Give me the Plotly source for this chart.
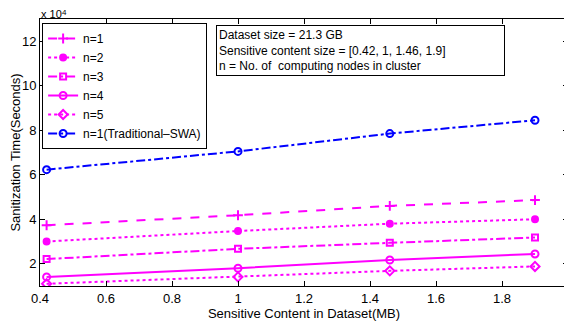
import plotly.graph_objects as go

content_mb = [0.42, 1, 1.46, 1.9]
n1 = [37300, 41800, 46000, 48600]
n2 = [30000, 34700, 38000, 40000]
n3 = [22100, 26700, 29400, 31800]
n4 = [14100, 18000, 21700, 24400]
n5 = [11000, 14100, 16800, 18800]
trad_swa = [62300, 70500, 78500, 84500]

x_ticks = [0.4, 0.6, 0.8, 1, 1.2, 1.4, 1.6, 1.8, 2]
x_ticktext = ["0.4", "0.6", "0.8", "1", "1.2", "1.4", "1.6", "1.8", "2"]
y_ticks = [20000, 40000, 60000, 80000, 100000, 120000]
y_ticktext = ["2", "4", "6", "8", "10", "12"]

MAG = "#FF00FF"
BLUE = "#0000FF"
FONT = "Liberation Sans, Arial, sans-serif"

series = [
    ("n=1", n1, MAG, "dash", "cross-thin-open", 7),
    ("n=2", n2, MAG, "dot", "circle", 6),
    ("n=3", n3, MAG, "dashdot", "square-open", 6),
    ("n=4", n4, MAG, "solid", "circle-open", 7),
    ("n=5", n5, MAG, "dot", "diamond-open", 7),
    ("n=1(Traditional\u2013SWA)", trad_swa, BLUE, "dashdot", "circle-open", 7),
]

fig = go.Figure()
for name, ys, col, dash, sym, sz in series:
    fig.add_trace(go.Scatter(
        x=content_mb, y=ys, name=name, mode="lines+markers",
        line=dict(color=col, dash=dash, width=2),
        marker=dict(symbol=sym, size=sz, color=col, line=dict(color=col, width=2)),
    ))

axis_common = dict(
    showline=True, linecolor="black", linewidth=1, mirror="ticks",
    ticks="inside", ticklen=5, tickcolor="black", showgrid=False, zeroline=False,
    tickfont=dict(family=FONT, size=13, color="black"),
    automargin=False,
)

# page has an 8px default body margin, so the figure is sized to fit the window
fig.update_layout(
    width=564, height=314,
    margin=dict(l=32, r=4, t=11, b=36),
    paper_bgcolor="white", plot_bgcolor="white",
    font=dict(family=FONT, size=13, color="black"),
    xaxis=dict(range=[0.4, 2], tickvals=x_ticks, ticktext=x_ticktext,
               title=dict(text="Sensitive Content in Dataset(MB)", standoff=4,
                          font=dict(family=FONT, size=13)), **axis_common),
    yaxis=dict(range=[10000, 130000], tickvals=y_ticks, ticktext=y_ticktext,
               title=dict(text="Sanitization Time(Seconds)", standoff=4,
                          font=dict(family=FONT, size=13)), **axis_common),
    legend=dict(x=0.004, y=0.985, xanchor="left", yanchor="top",
                bgcolor="white", bordercolor="black", borderwidth=1,
                font=dict(family=FONT, size=12), itemwidth=30,
                tracegroupgap=0),
    showlegend=True,
)

fig.add_annotation(
    xref="paper", yref="paper", x=0.334, y=0.9775, xanchor="left", yanchor="top",
    text="Dataset size = 21.3 GB<br>Sensitive content size = [0.42, 1, 1.46, 1.9]<br>n = No. of  computing nodes in cluster",
    align="left", showarrow=False, bordercolor="black", borderwidth=1,
    bgcolor="white", borderpad=2, font=dict(family=FONT, size=12),
    width=283,
)
# axis multiplier "x 10^4"
fig.add_annotation(
    xref="paper", yref="paper", x=0.0, y=1.017, xanchor="left", yanchor="middle",
    text="x 10", showarrow=False, font=dict(family=FONT, size=11),
    borderpad=0,
)
fig.add_annotation(
    xref="paper", yref="paper", x=0.040, y=1.024, xanchor="left", yanchor="middle",
    text="4", showarrow=False, font=dict(family=FONT, size=8),
    borderpad=0,
)

fig.write_html("out.html")
